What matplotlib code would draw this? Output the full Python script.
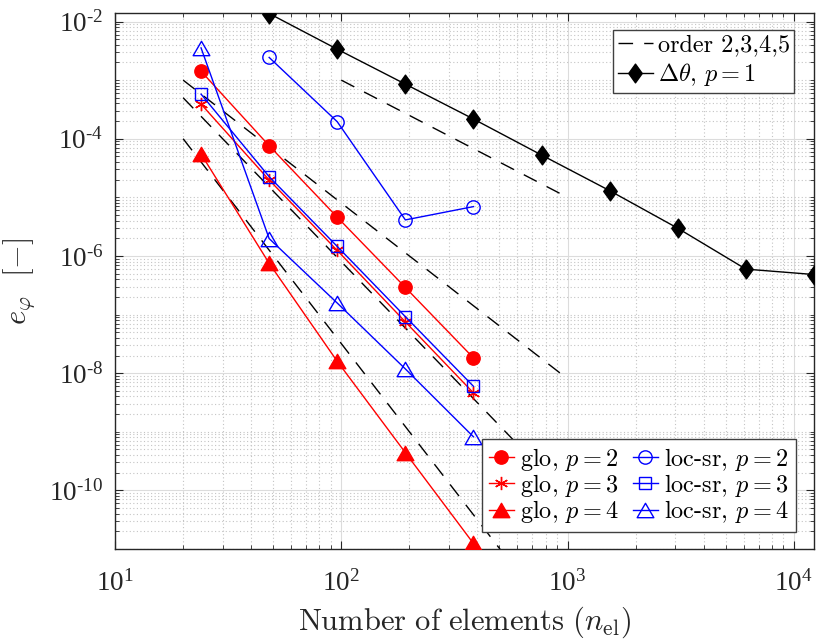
import numpy as np
import matplotlib
matplotlib.use("Agg")
import matplotlib.pyplot as plt
from matplotlib.ticker import LogLocator, FuncFormatter, NullFormatter, FixedLocator
from matplotlib.lines import Line2D
from matplotlib.path import Path

plt.rcParams['mathtext.fontset'] = 'cm'
plt.rcParams['font.family'] = ['Liberation Serif', 'DejaVu Serif']

# ---- data ----
n_glo = [24, 48, 96, 192, 384]
glo_p2 = [1.42e-3, 7.6e-5, 4.58e-6, 2.90e-7, 1.82e-8]
glo_p3 = [3.9e-4, 1.98e-5, 1.24e-6, 7.5e-8, 4.6e-9]
glo_p4 = [5.48e-5, 7.5e-7, 1.59e-8, 4.4e-10, 1.24e-11]

n_loc2 = [48, 96, 192, 384]
loc_p2 = [2.44e-3, 1.95e-4, 4.12e-6, 6.95e-6]
n_loc = [24, 48, 96, 192, 384]
loc_p3 = [5.77e-4, 2.25e-5, 1.45e-6, 9.2e-8, 5.96e-9]
loc_p4 = [3.55e-3, 1.98e-6, 1.57e-7, 1.18e-8, 8.2e-10]

n_theta = [48, 96, 192, 384, 768, 1536, 3072, 6144, 12288]
theta_p1 = [1.37e-2, 3.37e-3, 8.55e-4, 2.17e-4, 5.27e-5, 1.30e-5, 2.97e-6, 5.96e-7, 4.82e-7]

# reference order lines: (order, x_start, x_end, y_at_start)
order_vals = [2, 3, 4, 5]
order_x0 = [100, 20, 20, 20]
order_x1 = [1000, 1000, 1000, 1000]
order_y0 = [1e-3, 1e-3, 5e-4, 1e-4]

DASH = (0, (10.5, 8))
diamond = Path([(0, 1), (0.72, 0), (0, -1), (-0.72, 0), (0, 1)],
               [Path.MOVETO, Path.LINETO, Path.LINETO, Path.LINETO, Path.CLOSEPOLY])
tri = Path([(0, 0.82), (0.95, -0.82), (-0.95, -0.82), (0, 0.82)],
           [Path.MOVETO, Path.LINETO, Path.LINETO, Path.CLOSEPOLY])

fig = plt.figure(figsize=(8.30, 6.42), dpi=100)
ax = fig.add_axes([0.1386, 0.1449, 0.8421, 0.8349])
ax.set_xscale('log')
ax.set_yscale('log')

for o, xa, xb, ya in zip(order_vals, order_x0, order_x1, order_y0):
    xs = np.array([xa, xb], dtype=float)
    ys = ya * (xs / xa) ** (-o)
    ax.plot(xs, ys, color='black', lw=1.0, ls=DASH, zorder=2)

ax.plot(n_theta, theta_p1, color='black', lw=1.0, marker=diamond, ms=13.5,
        mfc='black', mec='black', zorder=4)

red = (1, 0, 0)
blue = (0, 0, 1)
l1, = ax.plot(n_glo, glo_p2, color=red, lw=1.0, marker='o', ms=9.6, mfc=red, mec=red, zorder=3)
l2, = ax.plot(n_glo, glo_p3, color=red, lw=1.0, marker=(6, 2, 0), ms=9.5, mec=red, mew=1.0, zorder=3)
l3, = ax.plot(n_glo, glo_p4, color=red, lw=1.0, marker=tri, ms=12, mfc=red, mec=red, zorder=3)
l4, = ax.plot(n_loc2, loc_p2, color=blue, lw=1.0, marker='o', ms=9.6, mfc='none', mec=blue, zorder=3)
l5, = ax.plot(n_loc, loc_p3, color=blue, lw=1.0, marker='s', ms=8, mfc='none', mec=blue, zorder=3)
l6, = ax.plot(n_loc, loc_p4, color=blue, lw=1.0, marker=tri, ms=12, mfc='none', mec=blue, zorder=3)

ax.set_xlim(10, 12288)
ax.set_ylim(1e-11, 1.4e-2)

ax.xaxis.set_major_locator(FixedLocator([1e1, 1e2, 1e3, 1e4]))
ax.xaxis.set_minor_locator(LogLocator(base=10, subs=np.arange(2, 10), numticks=20))
ax.yaxis.set_major_locator(FixedLocator([1e-10, 1e-8, 1e-6, 1e-4, 1e-2]))
ymin = [m * 10.0 ** e for e in range(-12, -1) for m in range(1, 10)
        if not (m == 1 and e % 2 == 0)]
ax.yaxis.set_minor_locator(FixedLocator(ymin))

def fmt(v, pos):
    e = int(round(np.log10(v)))
    s = str(e).replace('-', '\u2010')
    return r'$\mathregular{10^{%s}}$' % s

ax.xaxis.set_major_formatter(FuncFormatter(fmt))
ax.yaxis.set_major_formatter(FuncFormatter(fmt))
ax.xaxis.set_minor_formatter(NullFormatter())
ax.yaxis.set_minor_formatter(NullFormatter())

ax.tick_params(which='both', direction='in', top=True, right=True, labelsize=19.5, color='#262626')
ax.tick_params(which='major', length=6, width=0.8)
ax.tick_params(axis='x', which='major', pad=15)
ax.tick_params(axis='y', which='major', pad=8.5)
ax.tick_params(which='minor', length=3, width=0.6)
for lab in ax.get_xticklabels() + ax.get_yticklabels():
    lab.set_color('#262626')

ax.grid(True, which='major', color='#dcdcdc', lw=0.8, ls='-', zorder=0)
ax.grid(True, which='minor', color='#c4c4c4', lw=0.8, ls=(0, (1, 2.2)), zorder=0)
ax.set_axisbelow(True)
for s in ax.spines.values():
    s.set_color('#262626')
    s.set_linewidth(1.0)

ax.set_xlabel(r'$\mathrm{Number\ of\ elements\ }(n_{\mathrm{el}})$', fontsize=22, color='#262626', labelpad=6)
ax.set_ylabel(r'$e_{\varphi}\ \ [-]$', fontsize=22, color='#262626', labelpad=9)

# legends
FS = 17.5
h_ord = Line2D([], [], color='black', lw=1.0, ls=DASH)
h_th = Line2D([], [], color='black', lw=1.0, marker=diamond, ms=13.5)
leg1 = ax.legend([h_ord, h_th], ['order 2,3,4,5', r'$\Delta\theta,\,p=1$'],
                 loc='upper right', bbox_to_anchor=(0.972, 0.968),
                 prop={'family': 'cmr10', 'size': FS}, fancybox=False, framealpha=1,
                 edgecolor='#404040', handlelength=1.45, handletextpad=0.2,
                 borderpad=0.18, labelspacing=0.2, borderaxespad=0)
leg1.get_frame().set_linewidth(1.0)
ax.add_artist(leg1)

labels = [r'glo, $p=2$', r'glo, $p=3$', r'glo, $p=4$',
          r'loc-sr, $p=2$', r'loc-sr, $p=3$', r'loc-sr, $p=4$']
leg2 = ax.legend([l1, l2, l3, l4, l5, l6], labels, ncol=2,
                 loc='lower right', bbox_to_anchor=(0.974, 0.032),
                 prop={'family': 'cmr10', 'size': FS}, fancybox=False, framealpha=1,
                 edgecolor='#404040', handlelength=1.05, handletextpad=0.25,
                 columnspacing=0.55, borderpad=0.28, labelspacing=-0.04, borderaxespad=0)
leg2.get_frame().set_linewidth(1.0)

fig.savefig('out.png', dpi=100)
